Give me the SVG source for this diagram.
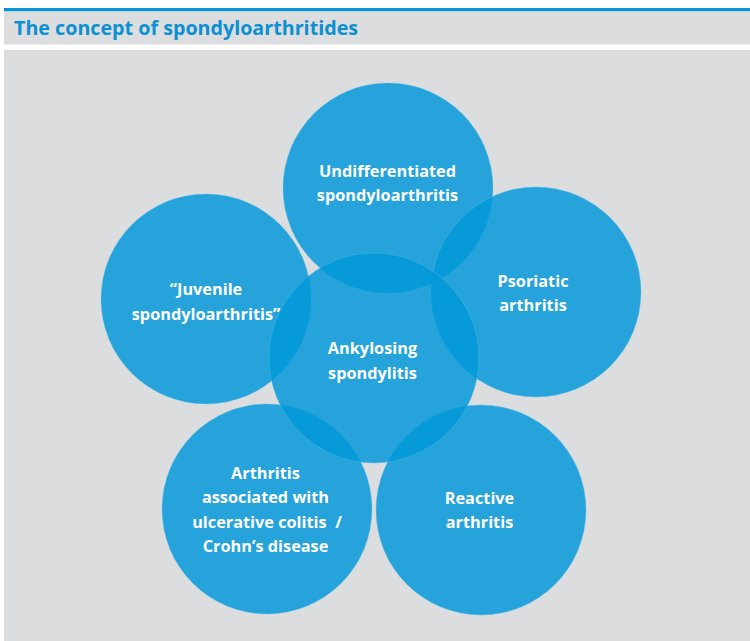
<svg xmlns="http://www.w3.org/2000/svg" width="750" height="641" viewBox="0 0 750 641">
  <style>
    .panel { fill: #dcdddf; }
    .rule { fill: #0795d6; }
    .title { font-family: "Open Sans", "Noto Sans", sans-serif; font-weight: 700; font-size: 19.7px; fill: #0a90d3; }
    .disc { fill: #0097d9; fill-opacity: 0.83; stroke: #5cc0ea; stroke-width: 0.6; stroke-opacity: 0.6; }
    .label { font-family: "Open Sans", "Noto Sans", sans-serif; font-weight: 700; font-size: 16.3px; fill: #ffffff; text-anchor: middle; }
  </style>

  <rect x="0" y="0" width="750" height="641" fill="#ffffff"/>

  <!-- header bar -->
  <rect class="rule" x="4" y="8" width="746" height="3.5"/>
  <rect class="panel" x="4" y="11.5" width="746" height="33"/>
  <text class="title" x="14" y="35">The concept of spondyloarthritides</text>

  <!-- body panel -->
  <rect class="panel" x="4" y="50" width="746" height="591"/>

  <!-- overlapping circles -->
  <g id="undifferentiated">
    <circle class="disc" cx="388" cy="188" r="105"/>
    <text class="label" x="387.5" y="177">Undifferentiated</text>
    <text class="label" x="387.5" y="201">spondyloarthritis</text>
  </g>
  <g id="psoriatic">
    <circle class="disc" cx="536" cy="292" r="105"/>
    <text class="label" x="533" y="287">Psoriatic</text>
    <text class="label" x="533" y="311">arthritis</text>
  </g>
  <g id="juvenile">
    <circle class="disc" cx="206" cy="299" r="105"/>
    <text class="label" x="206" y="295">“Juvenile</text>
    <text class="label" x="206" y="320">spondyloarthritis”</text>
  </g>
  <g id="enteropathic">
    <circle class="disc" cx="267" cy="509" r="105"/>
    <text class="label" x="265.5" y="479">Arthritis</text>
    <text class="label" x="265.5" y="503">associated with</text>
    <text class="label" x="267" y="527.5" xml:space="preserve">ulcerative colitis  /</text>
    <text class="label" x="265.5" y="552">Crohn’s disease</text>
  </g>
  <g id="reactive">
    <circle class="disc" cx="481" cy="510" r="105"/>
    <text class="label" x="479.5" y="503.5">Reactive</text>
    <text class="label" x="479.5" y="528">arthritis</text>
  </g>
  <g id="ankylosing">
    <circle class="disc" cx="374" cy="358" r="105"/>
    <text class="label" x="372.5" y="354">Ankylosing</text>
    <text class="label" x="372.5" y="378.5">spondylitis</text>
  </g>

  <g id="connectors"/>
</svg>
